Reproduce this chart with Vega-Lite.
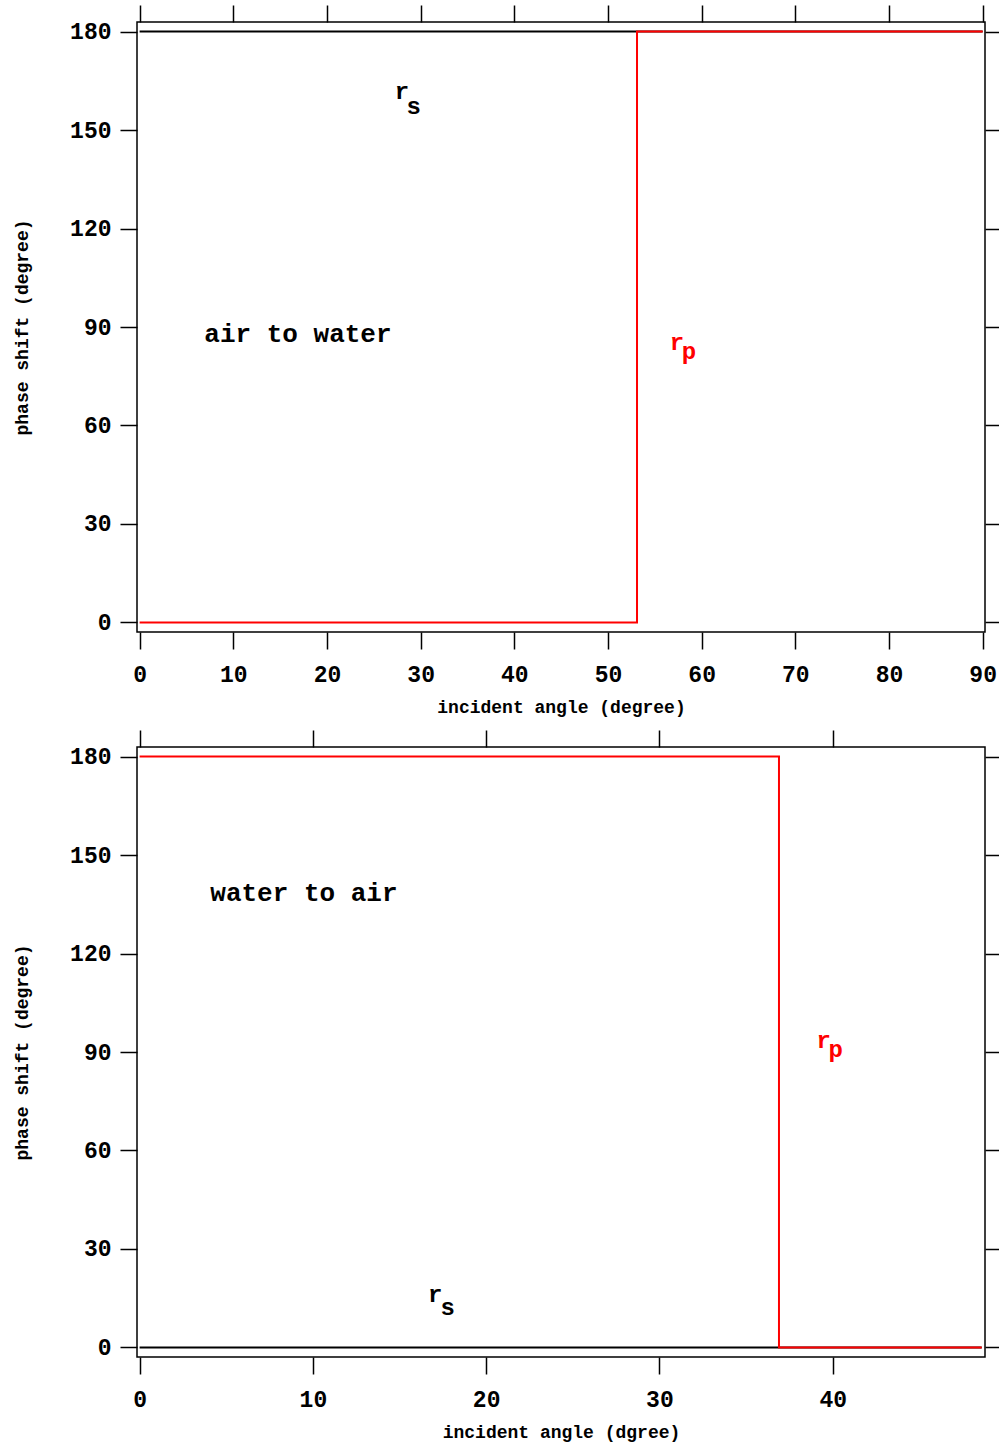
{
  "$schema": "https://vega.github.io/schema/vega-lite/v6.json",
  "padding": {"left": 12, "top": 3, "right": 0, "bottom": 5},
  "bounds": "flush",
  "spacing": 115,
  "background": "white",
  "config": {
    "view": {"stroke": "black", "strokeWidth": 1.5},
    "font": "Liberation Mono",
    "axis": {
      "domain": false, "grid": false, "tickSize": 17, "tickWidth": 1.5, "tickColor": "black",
      "labelFont": "Liberation Mono", "labelFontWeight": "bold", "labelFontSize": 23, "labelColor": "black",
      "titleFont": "Liberation Mono", "titleFontWeight": "bold", "titleFontSize": 18, "titleColor": "black"
    }
  },
  "datasets": {
    "lines1": [
      {"series": "rs", "x": 0, "y": 180, "o": 1},
      {"series": "rs", "x": 90, "y": 180, "o": 2},
      {"series": "rp", "x": 0, "y": 0, "o": 1},
      {"series": "rp", "x": 53.1, "y": 0, "o": 2},
      {"series": "rp", "x": 53.1, "y": 180, "o": 3},
      {"series": "rp", "x": 90, "y": 180, "o": 4}
    ],
    "labels1": [
      {"series": "note", "t": "air to water", "x": 6.91, "y": 85.4},
      {"series": "rs", "t": "r", "x": 27.24, "y": 159.3},
      {"series": "rs", "t": "s", "x": 28.49, "y": 155.0},
      {"series": "rp", "t": "r", "x": 56.59, "y": 82.9},
      {"series": "rp", "t": "p", "x": 57.87, "y": 80.2}
    ],
    "lines2": [
      {"series": "rs", "x": 0, "y": 0, "o": 1},
      {"series": "rs", "x": 48.6, "y": 0, "o": 2},
      {"series": "rp", "x": 0, "y": 180, "o": 1},
      {"series": "rp", "x": 36.9, "y": 180, "o": 2},
      {"series": "rp", "x": 36.9, "y": 0, "o": 3},
      {"series": "rp", "x": 48.6, "y": 0, "o": 4}
    ],
    "labels2": [
      {"series": "note", "t": "water to air", "x": 4.08, "y": 136.1},
      {"series": "rs", "t": "r", "x": 16.65, "y": 13.8},
      {"series": "rs", "t": "s", "x": 17.36, "y": 9.9},
      {"series": "rp", "t": "r", "x": 39.07, "y": 91.3},
      {"series": "rp", "t": "p", "x": 39.76, "y": 88.6}
    ]
  },
  "vconcat": [
    {
      "width": 848, "height": 610,
      "layer": [
        {
          "data": {"name": "lines1"},
          "mark": {"type": "line", "strokeWidth": 2},
          "encoding": {
            "x": {"field": "x", "type": "quantitative", "scale": {"domain": [-0.28, 90.25], "nice": false, "zero": false},
                  "axis": {"orient": "bottom", "values": [0, 10, 20, 30, 40, 50, 60, 70, 80, 90], "title": "incident angle (degree)", "labelPadding": 14, "titlePadding": 12}},
            "y": {"field": "y", "type": "quantitative", "scale": {"domain": [-2.9, 182.9], "nice": false, "zero": false},
                  "axis": {"orient": "left", "values": [0, 30, 60, 90, 120, 150, 180], "title": "phase shift (degree)", "labelPadding": 9, "titlePadding": 38}},
            "color": {"field": "series", "type": "nominal", "scale": {"domain": ["rs", "rp", "note"], "range": ["black", "red", "black"]}, "legend": null},
            "order": {"field": "o", "type": "quantitative"}
          }
        },
        {
          "data": {"name": "labels1"},
          "transform": [{"filter": "datum.series !== 'note'"}],
          "mark": {"type": "text", "align": "left", "baseline": "alphabetic", "fontSize": 24, "fontWeight": "bold", "font": "Liberation Mono"},
          "encoding": {
            "x": {"field": "x", "type": "quantitative", "scale": {"domain": [-0.28, 90.25], "nice": false, "zero": false},
                  "axis": {"orient": "top", "values": [0, 10, 20, 30, 40, 50, 60, 70, 80, 90], "labels": false, "title": null}},
            "y": {"field": "y", "type": "quantitative", "scale": {"domain": [-2.9, 182.9], "nice": false, "zero": false},
                  "axis": {"orient": "right", "values": [0, 30, 60, 90, 120, 150, 180], "labels": false, "title": null}},
            "text": {"field": "t", "type": "nominal"},
            "color": {"field": "series", "type": "nominal", "scale": {"domain": ["rs", "rp", "note"], "range": ["black", "red", "black"]}, "legend": null}
          }
        },
        {
          "data": {"name": "labels1"},
          "transform": [{"filter": "datum.series === 'note'"}],
          "mark": {"type": "text", "align": "left", "baseline": "alphabetic", "fontSize": 26, "fontWeight": "bold", "font": "Liberation Mono", "color": "black"},
          "encoding": {
            "x": {"field": "x", "type": "quantitative", "axis": null},
            "y": {"field": "y", "type": "quantitative", "axis": null},
            "text": {"field": "t", "type": "nominal"}
          }
        }
      ],
      "resolve": {"axis": {"x": "independent", "y": "independent"}}
    },
    {
      "width": 848, "height": 610,
      "layer": [
        {
          "data": {"name": "lines2"},
          "mark": {"type": "line", "strokeWidth": 2},
          "encoding": {
            "x": {"field": "x", "type": "quantitative", "scale": {"domain": [-0.15, 48.79], "nice": false, "zero": false},
                  "axis": {"orient": "bottom", "values": [0, 10, 20, 30, 40], "title": "incident angle (dgree)", "labelPadding": 14, "titlePadding": 12}},
            "y": {"field": "y", "type": "quantitative", "scale": {"domain": [-2.9, 182.9], "nice": false, "zero": false},
                  "axis": {"orient": "left", "values": [0, 30, 60, 90, 120, 150, 180], "title": "phase shift (degree)", "labelPadding": 9, "titlePadding": 38}},
            "color": {"field": "series", "type": "nominal", "scale": {"domain": ["rs", "rp", "note"], "range": ["black", "red", "black"]}, "legend": null},
            "order": {"field": "o", "type": "quantitative"}
          }
        },
        {
          "data": {"name": "labels2"},
          "transform": [{"filter": "datum.series !== 'note'"}],
          "mark": {"type": "text", "align": "left", "baseline": "alphabetic", "fontSize": 24, "fontWeight": "bold", "font": "Liberation Mono"},
          "encoding": {
            "x": {"field": "x", "type": "quantitative", "scale": {"domain": [-0.15, 48.79], "nice": false, "zero": false},
                  "axis": {"orient": "top", "values": [0, 10, 20, 30, 40], "labels": false, "title": null}},
            "y": {"field": "y", "type": "quantitative", "scale": {"domain": [-2.9, 182.9], "nice": false, "zero": false},
                  "axis": {"orient": "right", "values": [0, 30, 60, 90, 120, 150, 180], "labels": false, "title": null}},
            "text": {"field": "t", "type": "nominal"},
            "color": {"field": "series", "type": "nominal", "scale": {"domain": ["rs", "rp", "note"], "range": ["black", "red", "black"]}, "legend": null}
          }
        },
        {
          "data": {"name": "labels2"},
          "transform": [{"filter": "datum.series === 'note'"}],
          "mark": {"type": "text", "align": "left", "baseline": "alphabetic", "fontSize": 26, "fontWeight": "bold", "font": "Liberation Mono", "color": "black"},
          "encoding": {
            "x": {"field": "x", "type": "quantitative", "axis": null},
            "y": {"field": "y", "type": "quantitative", "axis": null},
            "text": {"field": "t", "type": "nominal"}
          }
        }
      ],
      "resolve": {"axis": {"x": "independent", "y": "independent"}}
    }
  ]
}
